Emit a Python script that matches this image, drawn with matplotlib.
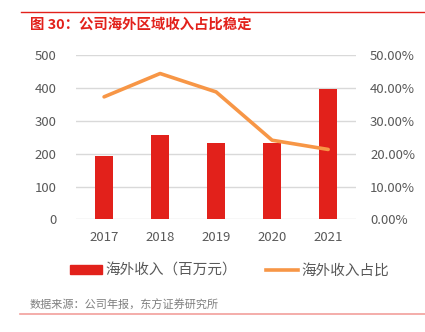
import matplotlib.pyplot as plt
from matplotlib.lines import Line2D
from matplotlib.patches import Patch

plt.rcParams['font.family'] = ['Noto Sans CJK SC', 'DejaVu Sans']

years = ['2017', '2018', '2019', '2020', '2021']
overseas_revenue = [193, 257, 232, 234, 396]       # 百万元
overseas_share = [37.3, 44.4, 38.8, 24.1, 21.3]   # %

bar_color = '#E2211B'
line_color = '#F79646'
text_gray = '#595959'

fig = plt.figure(figsize=(4.25, 3.32), dpi=100)
ax = fig.add_axes([0.179, 0.339, 0.659, 0.495])
x = list(range(len(years)))

ax.bar(x, overseas_revenue, width=0.31, color=bar_color, zorder=2)
ax.set_xlim(-0.5, 4.5)
ax.set_ylim(0, 500)
ax.set_yticks(range(0, 501, 100))
ax.set_xticks(x)
ax.set_xticklabels(years)
ax.grid(axis='y', color='#D9D9D9', linewidth=1, zorder=0)
for s in ax.spines.values():
    s.set_visible(False)
ax.tick_params(length=0, colors=text_gray, labelsize=9.5)
ax.tick_params(axis='y', pad=14)
ax.tick_params(axis='x', pad=8)

ax2 = ax.twinx()
ax2.plot(x, overseas_share, color=line_color, linewidth=2.6, solid_capstyle='round', zorder=3)
ax2.set_ylim(0, 50)
ax2.set_yticks(range(0, 51, 10))
ax2.set_yticklabels([f'{v:.2f}%' for v in range(0, 51, 10)])
for s in ax2.spines.values():
    s.set_visible(False)
ax2.tick_params(length=0, colors=text_gray, labelsize=9.5, pad=10)

# title and rules
fig.add_artist(Line2D([0.05, 1.0], [0.964, 0.964], color='#E2211B', linewidth=1))
fig.text(0.07, 0.927, '图 30：公司海外区域收入占比稳定', color='#E2211B',
         fontsize=10.4, fontweight='bold', va='center')
fig.add_artist(Line2D([0.047, 1.0], [0.054, 0.054], color='#F2A09C', linewidth=1.2))
fig.text(0.07, 0.081, '数据来源：公司年报，东方证券研究所', color='#7F7F7F',
         fontsize=8, va='center')

handles = [Patch(color=bar_color), Line2D([], [], color=line_color, linewidth=2.6)]
fig.legend(handles, ['海外收入（百万元）', '海外收入占比'], loc='center',
           bbox_to_anchor=(0.54, 0.185), ncol=2, frameon=False, fontsize=10.5,
           labelcolor=text_gray, handlelength=2.2, handleheight=0.5,
           columnspacing=2.0, handletextpad=0.25)

fig.savefig('out.png', dpi=100)
